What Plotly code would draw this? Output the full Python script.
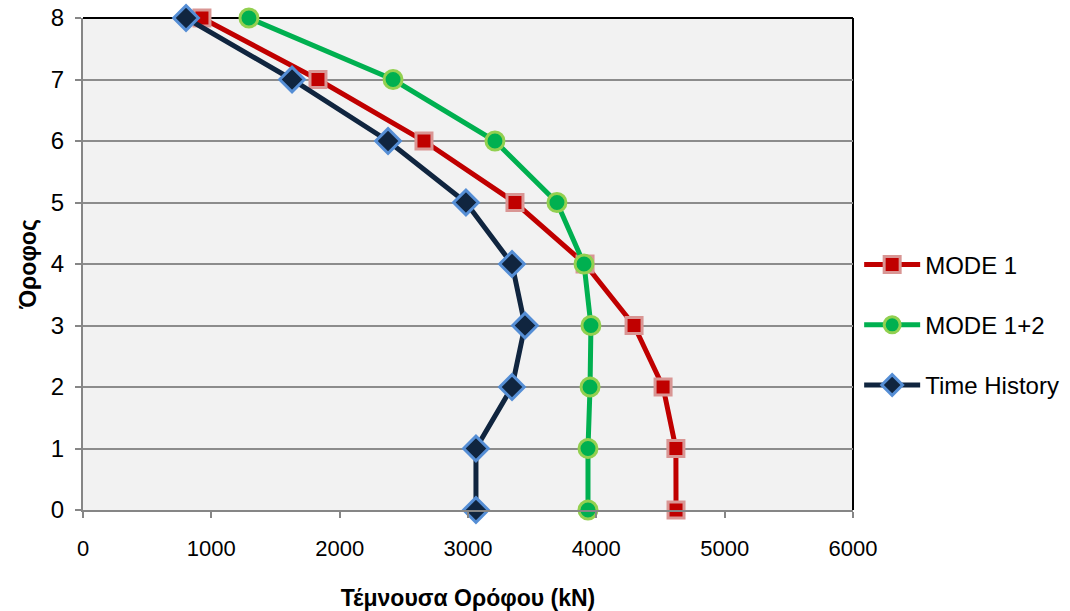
import plotly.graph_objects as go

floors = [0, 1, 2, 3, 4, 5, 6, 7, 8]
mode1 = [4621, 4620, 4520, 4294, 3912, 3366, 2657, 1831, 927]
mode12 = [3935, 3935, 3951, 3958, 3904, 3693, 3210, 2416, 1293]
time_history = [3062, 3062, 3343, 3444, 3343, 2984, 2377, 1629, 803]

series_names = ["MODE 1", "MODE 1+2", "Time History"]
x_ticks = [0, 1000, 2000, 3000, 4000, 5000, 6000]
y_ticks = [0, 1, 2, 3, 4, 5, 6, 7, 8]

fig = go.Figure()
styles = [
    (mode1, "#c00000", "square", 16, "#c00000", "#d99694"),
    (mode12, "#00b050", "circle", 18, "#00b050", "#92d050"),
    (time_history, "#10253f", "diamond", 19, "#10253f", "#558ed5"),
]
for name, (vals, lc, sym, sz, fc, oc) in zip(series_names, styles):
    fig.add_trace(go.Scatter(
        x=vals, y=floors, name=name, mode="lines+markers",
        line=dict(color=lc, width=5),
        marker=dict(symbol=sym, size=sz, color=fc, line=dict(color=oc, width=3)),
        cliponaxis=False, legendgroup=name,
    ))

font = "Liberation Sans, Arial, sans-serif"
fig.update_layout(
    width=1070, height=611,
    margin=dict(l=83, r=217, t=18, b=101, autoexpand=False),
    paper_bgcolor="white", plot_bgcolor="#f2f2f2",
    font=dict(family=font, size=22, color="black"),
    showlegend=True,
    legend=dict(x=1.008, y=0.376, xanchor="left", yanchor="middle",
                font=dict(size=24, family=font), traceorder="grouped",
                tracegroupgap=26, itemwidth=56, bgcolor="rgba(0,0,0,0)"),
    xaxis=dict(range=[0, 6000], tickvals=x_ticks, showgrid=False, zeroline=False,
               showline=True, linecolor="#868686", linewidth=2, automargin=False,
               ticks="outside", ticklen=6, tickcolor="#868686", tickwidth=2,
               tickfont=dict(size=22), ticklabelstandoff=12,
               title=dict(text="<b>Τέμνουσα Ορόφου (kN)</b>", font=dict(size=23), standoff=34)),
    yaxis=dict(range=[0, 8], tickvals=y_ticks, showgrid=True, gridcolor="#8c8c8c", gridwidth=2,
               zeroline=False, showline=True, linecolor="#868686", linewidth=2, automargin=False,
               ticks="outside", ticklen=6, tickcolor="#868686", tickwidth=2,
               tickfont=dict(size=24), ticklabelstandoff=6,
               title=dict(text="<b>Όροφος</b>", font=dict(size=23), standoff=8)),
    shapes=[
        dict(type="line", xref="paper", yref="paper", x0=0, x1=1, y0=1, y1=1,
             line=dict(color="black", width=2), layer="below"),
        dict(type="line", xref="paper", yref="paper", x0=1, x1=1, y0=0, y1=1,
             line=dict(color="black", width=2), layer="below"),
    ],
)
fig.write_html("out.html")
